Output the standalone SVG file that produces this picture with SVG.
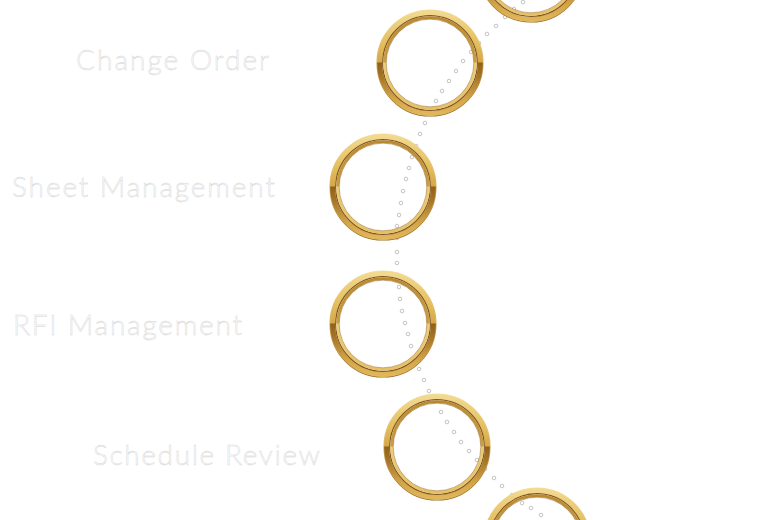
<svg xmlns="http://www.w3.org/2000/svg" xmlns:xlink="http://www.w3.org/1999/xlink" width="773" height="520" viewBox="0 0 773 520">
<defs>
<style>
.lbl{font-family:"Lato","Open Sans","DejaVu Sans",sans-serif;font-weight:300;font-size:28px;fill:#ffffff;stroke:#d4d4d4;stroke-width:0.45px}
.dot{fill:#ffffff;stroke:#c4c4c4;stroke-width:1}
</style>
<linearGradient id="gOuter" x1="0" y1="0" x2="0" y2="1">
<stop offset="0" stop-color="#f2d98e"/>
<stop offset="0.3" stop-color="#e4bf5e"/>
<stop offset="0.49" stop-color="#d5a748"/>
<stop offset="0.5" stop-color="#8f6119"/>
<stop offset="0.65" stop-color="#a8782a"/>
<stop offset="0.85" stop-color="#d2a448"/>
<stop offset="1" stop-color="#e0b65a"/>
</linearGradient>
<linearGradient id="gInner" x1="0" y1="0" x2="0" y2="1">
<stop offset="0" stop-color="#b98a30"/>
<stop offset="0.49" stop-color="#c99e46"/>
<stop offset="0.5" stop-color="#edcd78"/>
<stop offset="1" stop-color="#e6c066"/>
</linearGradient>
<linearGradient id="gEdge" x1="0" y1="0" x2="0" y2="1">
<stop offset="0" stop-color="#f4e0a4"/>
<stop offset="0.5" stop-color="#d9b05a"/>
<stop offset="1" stop-color="#9a6a24"/>
</linearGradient>
<g id="ring">
<circle r="53" fill="none" stroke="url(#gEdge)" stroke-width="1.2"/>
<circle r="50.4" fill="none" stroke="url(#gOuter)" stroke-width="5"/>
<circle r="47.3" fill="none" stroke="#85581a" stroke-width="1.3"/>
<circle r="45.3" fill="none" stroke="url(#gInner)" stroke-width="2.8"/>
<circle r="43.8" fill="none" stroke="#946620" stroke-width="0.5"/>
</g>
</defs>
<rect width="773" height="520" fill="#ffffff"/>
<g id="connectors">
<circle class="dot" cx="523" cy="2" r="1.8"/>
<circle class="dot" cx="514" cy="9" r="1.8"/>
<circle class="dot" cx="505" cy="17" r="1.8"/>
<circle class="dot" cx="496" cy="26" r="1.8"/>
<circle class="dot" cx="487" cy="34" r="1.8"/>
<circle class="dot" cx="479" cy="43" r="1.8"/>
<circle class="dot" cx="471" cy="52" r="1.8"/>
<circle class="dot" cx="463" cy="61" r="1.8"/>
<circle class="dot" cx="456" cy="71" r="1.8"/>
<circle class="dot" cx="449" cy="81" r="1.8"/>
<circle class="dot" cx="442" cy="91" r="1.8"/>
<circle class="dot" cx="436" cy="101" r="1.8"/>
<circle class="dot" cx="430" cy="112" r="1.8"/>
<circle class="dot" cx="425" cy="123" r="1.8"/>
<circle class="dot" cx="420" cy="134" r="1.8"/>
<circle class="dot" cx="416" cy="146" r="1.8"/>
<circle class="dot" cx="412" cy="157" r="1.8"/>
<circle class="dot" cx="409" cy="168" r="1.8"/>
<circle class="dot" cx="406" cy="179" r="1.8"/>
<circle class="dot" cx="403" cy="191" r="1.8"/>
<circle class="dot" cx="401" cy="203" r="1.8"/>
<circle class="dot" cx="399" cy="215" r="1.8"/>
<circle class="dot" cx="397" cy="226" r="1.8"/>
<circle class="dot" cx="397" cy="238" r="1.8"/>
<circle class="dot" cx="397" cy="252" r="1.8"/>
<circle class="dot" cx="397" cy="263" r="1.8"/>
<circle class="dot" cx="398" cy="275" r="1.8"/>
<circle class="dot" cx="399" cy="287" r="1.8"/>
<circle class="dot" cx="400" cy="299" r="1.8"/>
<circle class="dot" cx="402" cy="311" r="1.8"/>
<circle class="dot" cx="405" cy="323" r="1.8"/>
<circle class="dot" cx="408" cy="334" r="1.8"/>
<circle class="dot" cx="411" cy="346" r="1.8"/>
<circle class="dot" cx="415" cy="358" r="1.8"/>
<circle class="dot" cx="419" cy="369" r="1.8"/>
<circle class="dot" cx="424" cy="380" r="1.8"/>
<circle class="dot" cx="429" cy="391" r="1.8"/>
<circle class="dot" cx="435" cy="401" r="1.8"/>
<circle class="dot" cx="441" cy="412" r="1.8"/>
<circle class="dot" cx="447" cy="422" r="1.8"/>
<circle class="dot" cx="454" cy="432" r="1.8"/>
<circle class="dot" cx="461" cy="442" r="1.8"/>
<circle class="dot" cx="469" cy="451" r="1.8"/>
<circle class="dot" cx="477" cy="460" r="1.8"/>
<circle class="dot" cx="485" cy="469" r="1.8"/>
<circle class="dot" cx="494" cy="478" r="1.8"/>
<circle class="dot" cx="502" cy="486" r="1.8"/>
<circle class="dot" cx="512" cy="495" r="1.8"/>
<circle class="dot" cx="522" cy="503" r="1.8"/>
<circle class="dot" cx="531" cy="508" r="1.8"/>
<circle class="dot" cx="541" cy="515" r="1.8"/>
</g>
<g id="node-top">
<use xlink:href="#ring" href="#ring" x="531" y="-31"/>
</g>
<g id="node-change-order">
<use xlink:href="#ring" href="#ring" x="430" y="63"/>
<text class="lbl" x="76" y="70" textLength="193" lengthAdjust="spacing">Change Order</text>
</g>
<g id="node-sheet-management">
<use xlink:href="#ring" href="#ring" x="383" y="187"/>
<text class="lbl" x="12" y="197" textLength="263" lengthAdjust="spacing">Sheet Management</text>
</g>
<g id="node-rfi-management">
<use xlink:href="#ring" href="#ring" x="383" y="324"/>
<text class="lbl" x="13" y="335" textLength="229" lengthAdjust="spacing">RFI Management</text>
</g>
<g id="node-schedule-review">
<use xlink:href="#ring" href="#ring" x="437" y="447"/>
<text class="lbl" x="93" y="465" textLength="227" lengthAdjust="spacing">Schedule Review</text>
</g>
<g id="node-bottom">
<use xlink:href="#ring" href="#ring" x="537" y="541"/>
</g>
</svg>
